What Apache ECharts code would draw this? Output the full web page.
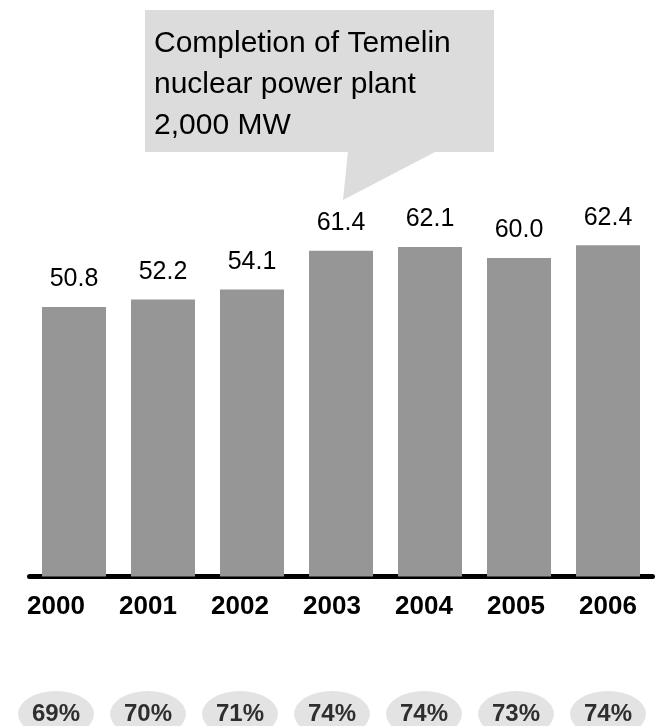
<!DOCTYPE html>
<html>
<head>
<meta charset="utf-8">
<script src="https://cdn.jsdelivr.net/npm/echarts@6/dist/echarts.min.js"></script>
<style>
  html, body { margin: 0; padding: 0; background: #fff; }
  #chart { width: 659px; height: 726px; }
</style>
</head>
<body>
<div id="chart"></div>
<script>
// Electricity generation by year (TWh) and the share shown under each year
const years = ['2000', '2001', '2002', '2003', '2004', '2005', '2006'];
const generation = [50.8, 52.2, 54.1, 61.4, 62.1, 60.0, 62.4];
const shares = [69, 70, 71, 74, 74, 73, 74];
const calloutLines = ['Completion of Temelin', 'nuclear power plant', '2,000 MW'];

const FONT = '"Liberation Sans", Arial, sans-serif';

const chart = echarts.init(document.getElementById('chart'), null, { renderer: 'canvas' });

chart.setOption({
  animation: false,
  backgroundColor: '#ffffff',
  grid: [
    // bars
    { left: 29.5, width: 623, top: 205, bottom: 149.5 },
    // year labels
    { left: 10, width: 644, top: 560, height: 30 },
    // share ellipses
    { left: 10, width: 644, top: 700, height: 14 }
  ],
  xAxis: [
    {
      gridIndex: 0, type: 'category', data: years,
      axisLine: { show: true, lineStyle: { color: '#000', width: 5, cap: 'round' } },
      axisTick: { show: false },
      axisLabel: { show: false },
      splitLine: { show: false }
    },
    {
      gridIndex: 1, type: 'category', data: years,
      axisLine: { show: false },
      axisTick: { show: false },
      splitLine: { show: false },
      axisLabel: {
        margin: 4, color: '#000', fontFamily: FONT,
        fontSize: 26, fontWeight: 'bold'
      }
    },
    {
      gridIndex: 2, type: 'category', data: years, show: false
    }
  ],
  yAxis: [
    { gridIndex: 0, type: 'value', min: 0, max: 70, show: false, splitLine: { show: false } },
    { gridIndex: 1, type: 'value', min: 0, max: 1, show: false, splitLine: { show: false } },
    { gridIndex: 2, type: 'value', min: 0, max: 1, show: false, splitLine: { show: false } }
  ],
  series: [
    {
      type: 'bar',
      xAxisIndex: 0, yAxisIndex: 0,
      data: generation,
      barWidth: 64,
      itemStyle: { color: '#969696' },
      label: {
        show: true, position: 'top', distance: 15,
        color: '#000', fontFamily: FONT, fontSize: 25,
        formatter: p => p.value.toFixed(1)
      }
    },
    {
      type: 'scatter',
      xAxisIndex: 2, yAxisIndex: 2,
      data: shares.map((v, i) => [years[i], 0]),
      symbol: 'circle',
      symbolSize: [76, 46],
      clip: false,
      itemStyle: { color: '#dcdcdc' },
      label: {
        show: true, position: 'inside',
        color: '#000', fontFamily: FONT, fontSize: 24, fontWeight: 'bold',
        formatter: p => shares[p.dataIndex] + '%'
      },
      z: 3
    }
  ],
  graphic: [
    {
      type: 'rect',
      shape: { x: 145, y: 10, width: 349, height: 142 },
      style: { fill: '#dcdcdc' },
      z: 1
    },
    {
      type: 'polygon',
      shape: { points: [[348, 151], [437, 151], [343, 200]] },
      style: { fill: '#dcdcdc' },
      z: 1
    },
    {
      type: 'text',
      left: 154, top: 23,
      style: {
        text: calloutLines.join('\n'),
        fill: '#000',
        font: '30px ' + FONT,
        lineHeight: 41
      },
      z: 2
    }
  ]
});
</script>
</body>
</html>
